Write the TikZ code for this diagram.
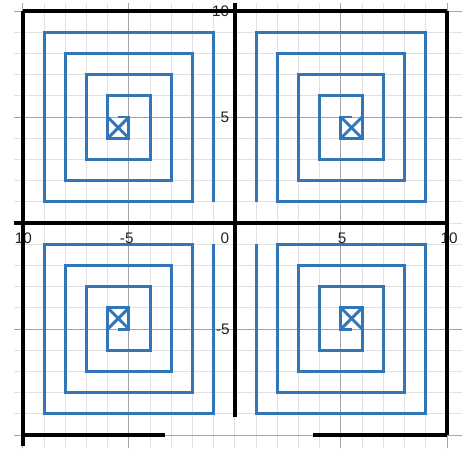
\documentclass[tikz,border=0pt]{standalone}
\usepackage{fontspec}
\setmainfont{Liberation Sans}
\definecolor{spiralblue}{RGB}{50,118,186}
\definecolor{minorgrid}{RGB}{225,225,225}
\definecolor{majorgrid}{RGB}{165,165,165}
\definecolor{labelgray}{RGB}{34,34,34}
\tikzset{
  minorline/.style={draw=minorgrid, line width=1.2pt},
  majorline/.style={draw=majorgrid, line width=1.2pt},
  frameline/.style={draw=black, line width=4.5pt},
  spiralline/.style={draw=spiralblue, line width=3.9pt, line join=miter},
  ticklabel/.style={text=labelgray, inner sep=0pt, font=\fontsize{20.5}{24}\selectfont}
}
\begin{document}
\begin{tikzpicture}
\useasboundingbox (-11.08,-10.61) rectangle (10.71,10.52);
\fill[white] (-11.08,-10.61) rectangle (10.71,10.52);
% minor grid
\foreach \i in {-10,...,10} {
  \draw[minorline] (\i,-10.61) -- (\i,10.38);
  \draw[minorline] (-10.42,\i) -- (10.71,\i);
}
% major grid
\foreach \i in {-10,-5,5,10} {
  \draw[majorline] (\i,-10.61) -- (\i,10.38);
  \draw[majorline] (-10.42,\i) -- (10.71,\i);
}
% spirals
\foreach \sx/\sy in {1/1,-1/1,1/-1,-1/-1} {
  \begin{scope}[xscale=\sx, yscale=\sy]
    \draw[spiralline] (1,1) -- (1,9) -- (9,9) -- (9,1) -- (2,1) -- (2,8) -- (8,8) -- (8,2)
      -- (3,2) -- (3,7) -- (7,7) -- (7,3) -- (4,3) -- (4,6) -- (6,6) -- (6,4) -- (5,4)
      -- (5,5) -- (5.5,5);
    \draw[spiralline] (5,4) -- (6,5) (5,5) -- (6,4);
  \end{scope}
}
% tick labels
\node[ticklabel, anchor=east] (ly10) at (-0.27,10) {10};
\node[ticklabel, anchor=east] (ly5) at (-0.27,5) {5};
\node[ticklabel, anchor=east] (lym5) at (-0.24,-5) {-5};
\node[ticklabel] (lxm10) at (-9.98,-0.70) {10};
\node[ticklabel] (lxm5) at (-5.1,-0.72) {-5};
\node[ticklabel] (lx0) at (-0.47,-0.70) {0};
\node[ticklabel] (lx5) at (5.06,-0.72) {5};
\node[ticklabel] (lx10) at (10.1,-0.70) {10};
% black frame lines
\draw[frameline] (-10,10) -- (10,10);
\draw[frameline] (-10,10) -- (-10,-10.5);
\draw[frameline] (10,10) -- (10,-10);
\draw[frameline] (0,10.4) -- (0,-9.15);
\draw[frameline] (-10.42,0) -- (10,0);
\draw[frameline] (-10,-10) -- (-3.3,-10);
\draw[frameline] (3.7,-10) -- (10,-10);
\end{tikzpicture}
\end{document}
